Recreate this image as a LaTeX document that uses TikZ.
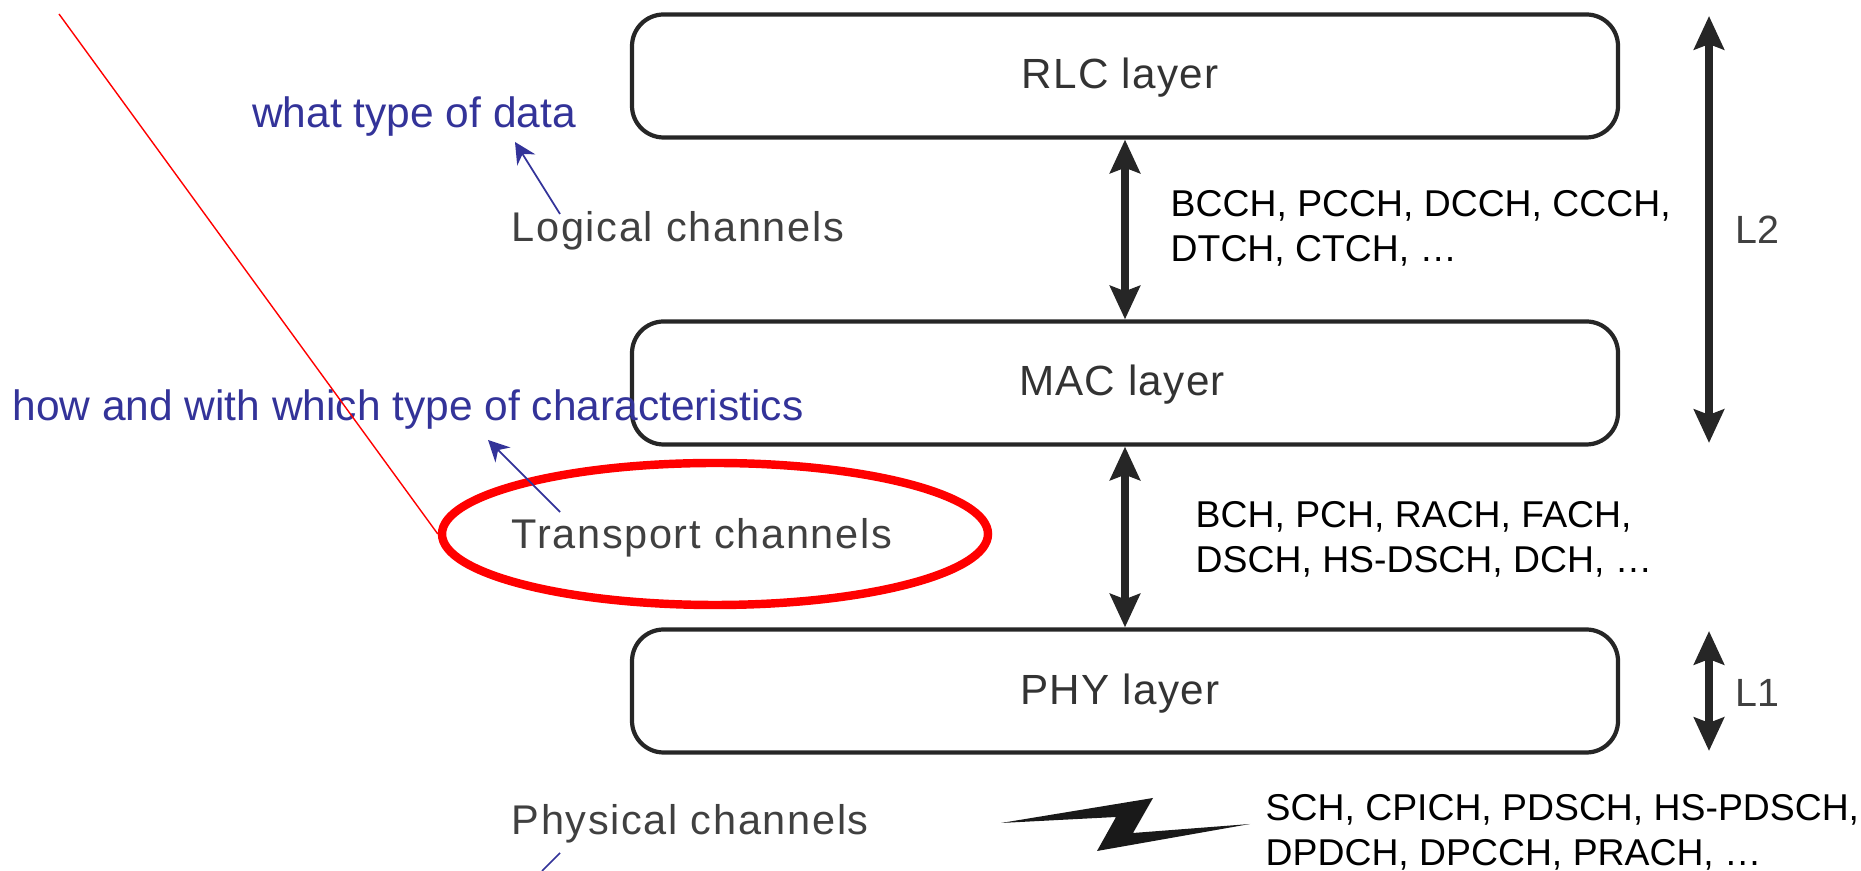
\documentclass[tikz,border=0pt]{standalone}
\usepackage{fontspec}
\setmainfont{Liberation Sans}
\usetikzlibrary{arrows.meta, shapes.geometric}
\definecolor{noteblue}{HTML}{333399}
\tikzset{layernode/.style={draw=black!85, line width=1.2pt, rounded corners=9pt, minimum width=986*0.01cm, minimum height=123*0.01cm, inner sep=0pt},
  layertext/.style={inner sep=0pt, text=black!80, font=\fontsize{12}{13}\selectfont\addfontfeatures{LetterSpace=3}},
  channode/.style={anchor=west, inner sep=0pt, text=black!75, font=\fontsize{11.8}{13}\selectfont\addfontfeatures{LetterSpace=4}},
  levelnode/.style={anchor=west, inner sep=0pt, text=black!75, font=\fontsize{11.2}{13}\selectfont},
  listnode/.style={anchor=west, align=left, inner sep=0pt, font=\fontsize{10.62}{12.8}\selectfont},
  notenode/.style={inner sep=0pt, text=noteblue, font=\fontsize{12.08}{13}\selectfont},
  bigarrow/.style={{Stealth[length=9.5pt,width=8.5pt,inset=1.5pt]}-{Stealth[length=9.5pt,width=8.5pt,inset=1.5pt]}, line width=2.1pt, black!85},
  notearrow/.style={-{Stealth[length=6pt,width=6pt]}, noteblue, line width=0.5pt}}

\begin{document}
\begin{tikzpicture}[x=0.01cm, y=-0.01cm]

\useasboundingbox (0, 0) rectangle (1861, 871);

  % nodes

  \node [style = layernode] (rlc) at (1125, 76) {};
  \node [style = layernode] (mac) at (1125, 383) {};
  \node [style = layernode] (phy) at (1125, 691) {};

  \node [style = layertext] (rlctext) at (1120, 77.5) {RLC layer};
  \node [style = layertext] (mactext) at (1122, 385) {MAC layer};
  \node [style = layertext] (phytext) at (1120, 694) {PHY layer};

  \node [style = channode] (logical) at (511, 231) {Logical channels};
  \node [style = channode] (transport) at (511, 538) {Transport channels};
  \node [style = channode] (physical) at (511, 824) {Physical channels};

  \node [style = listnode] (logiclist) at (1170, 228) {BCCH, PCCH, DCCH, CCCH,\\DTCH, CTCH, …};
  \node [style = listnode] (translist) at (1195, 539) {BCH, PCH, RACH, FACH,\\DSCH, HS-DSCH, DCH, …};
  \node [style = listnode] (physlist) at (1265, 832) {SCH, CPICH, PDSCH, HS-PDSCH,\\DPDCH, DPCCH, PRACH, …};

  \node [style = levelnode] (ltwo) at (1735, 230) {L2};
  \node [style = levelnode] (lone) at (1735, 693) {L1};

  \node [style = notenode] (whatnote) at (414, 117) {what type of data};
  \node [style = notenode] (hownote) at (408, 410) {how and with which type of characteristics};

  \node [ellipse, draw=red, line width=2.4pt, minimum width=546*0.01cm, minimum height=142*0.01cm, inner sep=0pt] (oval) at (715, 534) {};

  \coordinate (redstart) at (59, 14);
  \coordinate (ltwotop) at (1709, 16);
  \coordinate (ltwobot) at (1709, 443);
  \coordinate (lonetop) at (1709, 631);
  \coordinate (lonebot) at (1709, 751);
  \coordinate (logicfrom) at (560, 214);
  \coordinate (logicto) at (515, 142);
  \coordinate (transfrom) at (560, 512);
  \coordinate (transto) at (488, 440);
  \coordinate (physfrom) at (560, 853);
  \coordinate (physto) at (542, 871);

  % edges
  \draw [style = bigarrow] (rlc) to (mac);
  \draw [style = bigarrow] (mac) to (phy);
  \draw [style = bigarrow] (ltwotop) to (ltwobot);
  \draw [style = bigarrow] (lonetop) to (lonebot);
  \draw [red, line width=0.4pt] (redstart) to (oval.west);
  \draw [style = notearrow] (logicfrom) to (logicto);
  \draw [style = notearrow] (transfrom) to (transto);
  \draw [noteblue, line width=0.5pt] (physfrom) to (physto);

  % bolt
  \fill [black!90] (1001, 823) -- (1153, 798) -- (1133, 833) -- (1250, 824) -- (1097, 851) -- (1116, 817) -- cycle;

\end{tikzpicture}
\end{document}
